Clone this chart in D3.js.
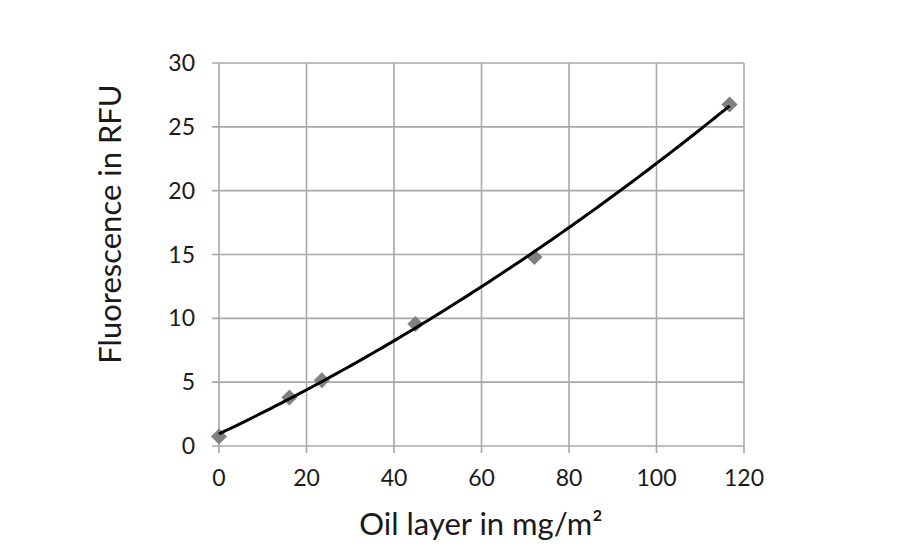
<!DOCTYPE html>
<html>
<head>
<meta charset="utf-8">
<script src="https://cdn.jsdelivr.net/npm/d3@7"></script>
<style>
body { margin: 0; background: #fff; }
text { font-family: Lato, "Noto Sans", sans-serif; fill: #1a1a1a; }
</style>
</head>
<body>
<script>
// data
var oilLayer = [0, 16.1, 23.5, 44.9, 72.1, 116.7];
var fluorescence = [0.75, 3.8, 5.15, 9.55, 14.8, 26.75];
var xTicks = [0, 20, 40, 60, 80, 100, 120];
var yTicks = [0, 5, 10, 15, 20, 25, 30];

var W = 900, H = 550;
var m = {left: 219, right: 744, top: 63, bottom: 446};
var grid = "#a8a8a8";

var svg = d3.select("body").append("svg")
    .attr("width", W)
    .attr("height", H);

var x = d3.scaleLinear().domain([0, 120]).range([m.left, m.right]);
var y = d3.scaleLinear().domain([0, 30]).range([m.bottom, m.top]);

// gridlines
svg.append("g").selectAll("line")
    .data(xTicks)
    .enter().append("line")
    .attr("x1", function(d){ return x(d); })
    .attr("x2", function(d){ return x(d); })
    .attr("y1", m.top)
    .attr("y2", m.bottom + 7)
    .style("stroke", grid)
    .style("stroke-width", 1.6);

svg.append("g").selectAll("line")
    .data(yTicks)
    .enter().append("line")
    .attr("x1", m.left - 7)
    .attr("x2", m.right)
    .attr("y1", function(d){ return y(d); })
    .attr("y2", function(d){ return y(d); })
    .style("stroke", grid)
    .style("stroke-width", 1.6);

// tick labels
svg.append("g").selectAll("text")
    .data(xTicks)
    .enter().append("text")
    .attr("x", function(d){ return x(d); })
    .attr("y", 486)
    .attr("text-anchor", "middle")
    .style("font-size", "23px")
    .text(function(d){ return d; });

svg.append("g").selectAll("text")
    .data(yTicks)
    .enter().append("text")
    .attr("x", 195)
    .attr("y", function(d){ return y(d) + 8; })
    .attr("text-anchor", "end")
    .style("font-size", "23px")
    .text(function(d){ return d; });

// quadratic least squares trend
function polyfit(xs, ys){
    var n = xs.length, s = [0,0,0,0,0], t = [0,0,0];
    for (var i = 0; i < n; i++){
	for (var k = 0; k < 5; k++) s[k] += Math.pow(xs[i], k);
	for (var k = 0; k < 3; k++) t[k] += ys[i] * Math.pow(xs[i], k);
    }
    var A = [[s[0], s[1], s[2], t[0]],
	     [s[1], s[2], s[3], t[1]],
	     [s[2], s[3], s[4], t[2]]];
    for (var c = 0; c < 3; c++){
	for (var r = c + 1; r < 3; r++){
	    var f = A[r][c] / A[c][c];
	    for (var j = c; j < 4; j++) A[r][j] -= f * A[c][j];
	}
    }
    var b = [0,0,0];
    for (var r = 2; r >= 0; r--){
	var v = A[r][3];
	for (var j = r + 1; j < 3; j++) v -= A[r][j] * b[j];
	b[r] = v / A[r][r];
    }
    return b;
}

var coef = polyfit(oilLayer, fluorescence);
var xmax = d3.max(oilLayer);
var trend = d3.range(0, 101).map(function(i){
    var xv = xmax * i / 100;
    return [xv, coef[0] + coef[1] * xv + coef[2] * xv * xv];
});

var pts = oilLayer.map(function(d, i){ return [d, fluorescence[i]]; });

svg.append("g").selectAll("path")
    .data(pts)
    .enter().append("path")
    .attr("d", d3.symbol().type(d3.symbolDiamond2).size(165))
    .attr("transform", function(d){ return "translate(" + x(d[0]) + "," + y(d[1]) + ")"; })
    .style("fill", "#808080");

svg.append("path")
    .datum(trend)
    .attr("d", d3.line()
	  .x(function(d){ return x(d[0]); })
	  .y(function(d){ return y(d[1]); }))
    .style("fill", "none")
    .style("stroke", "#000")
    .style("stroke-width", 3);

// axis titles
svg.append("text")
    .attr("x", 481)
    .attr("y", 535)
    .attr("text-anchor", "middle")
    .style("font-size", "31px")
    .text("Oil layer in mg/m²");

svg.append("text")
    .attr("transform", "translate(121,224) rotate(-90)")
    .attr("text-anchor", "middle")
    .style("font-size", "31px")
    .text("Fluorescence in RFU");
</script>
</body>
</html>
